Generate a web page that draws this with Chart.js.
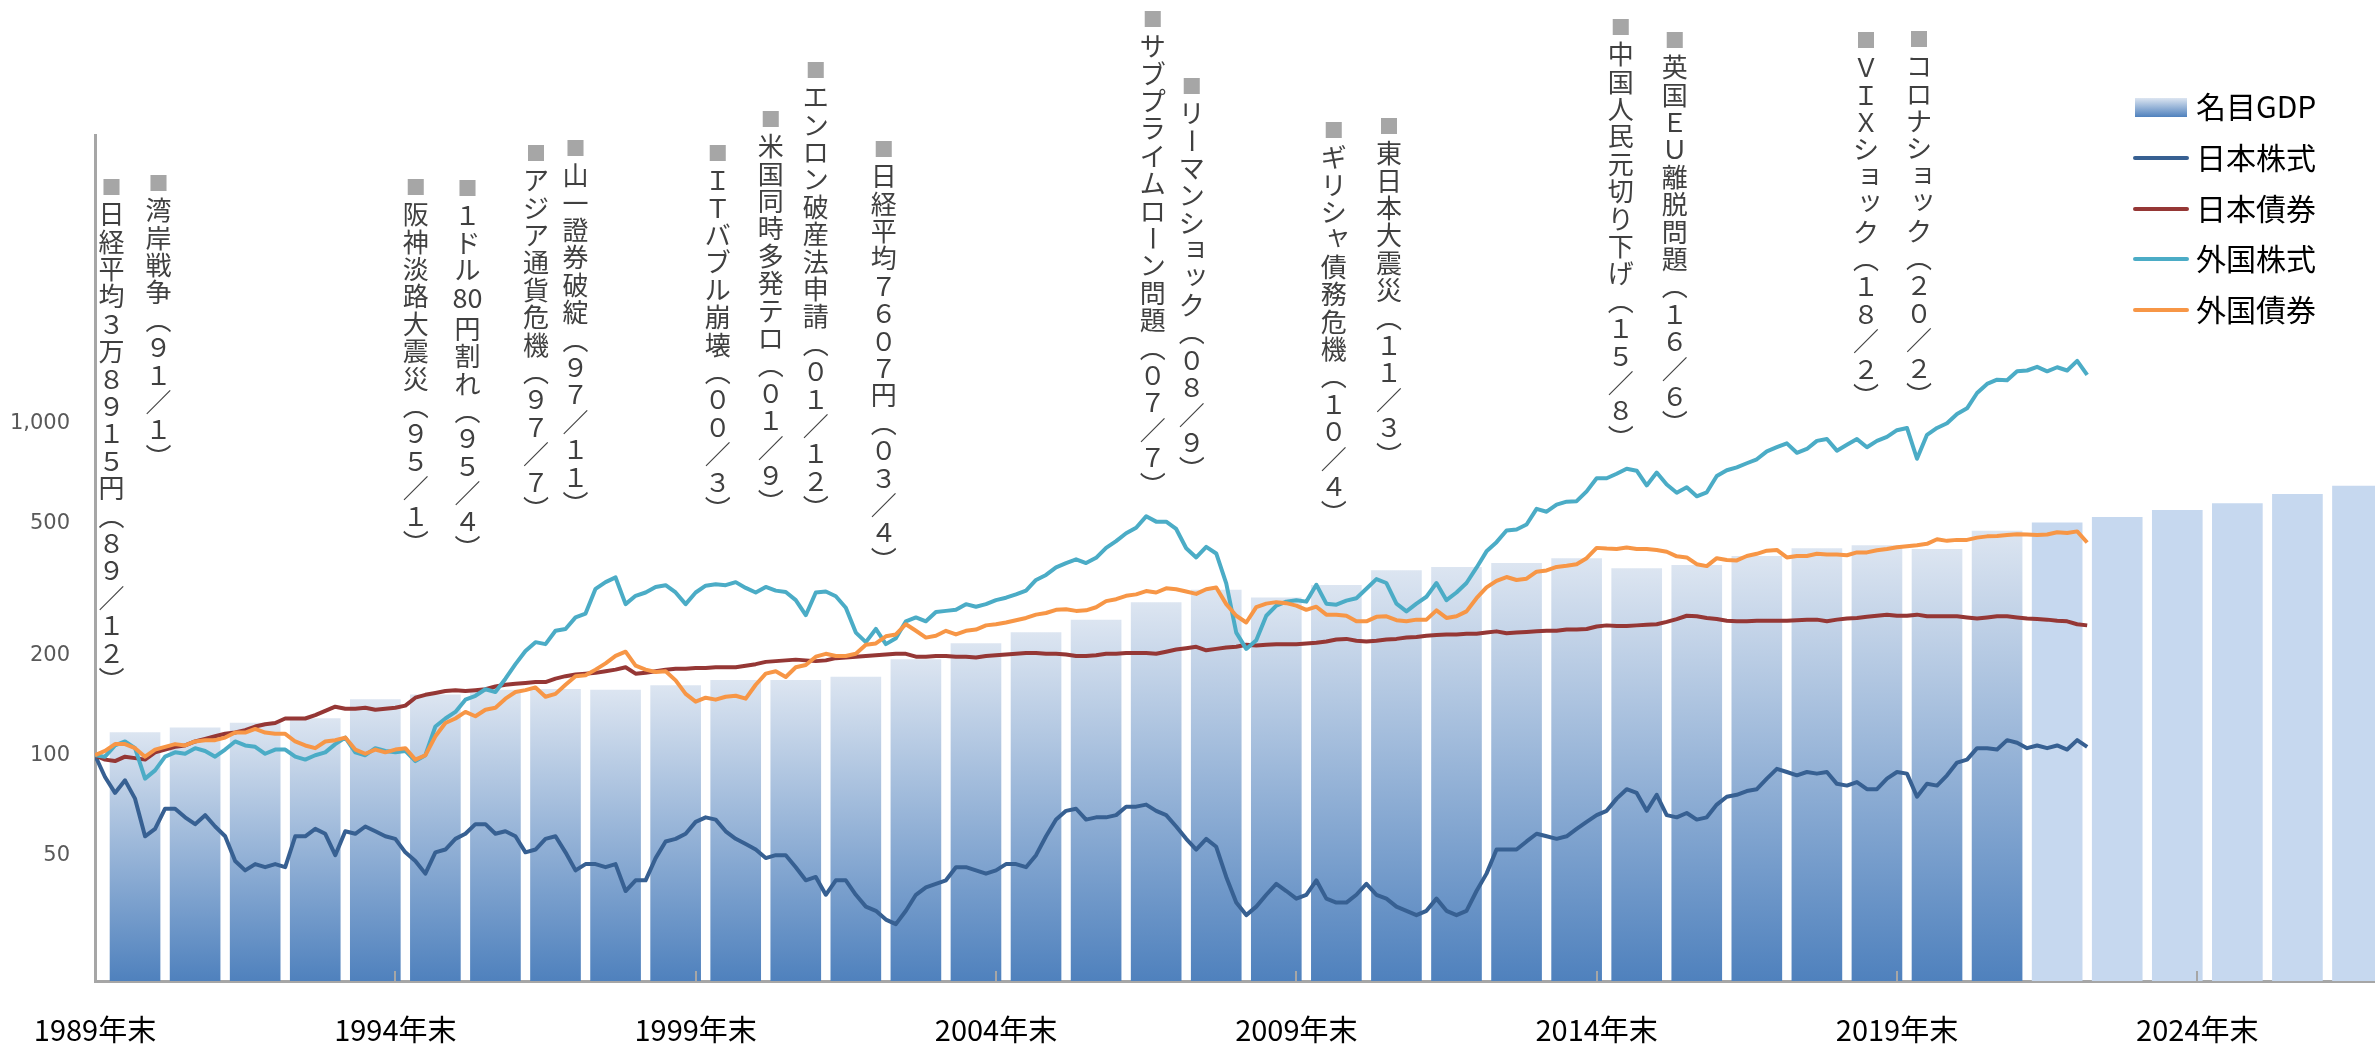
<!DOCTYPE html>
<html>
<head>
<meta charset="utf-8">
<script src="https://cdn.jsdelivr.net/npm/chart.js@4.4.1/dist/chart.umd.min.js"></script>
<style>
  html, body { margin: 0; padding: 0; background: #fff; }
  #wrap { width: 2375px; height: 1047px; }
</style>
</head>
<body>
<div id="wrap"><canvas id="chart" width="2375" height="1047"></canvas></div>
<script>
// 指数（1989年末=100）、2か月ごとの値（0 = 1989年12月）
const japanStock = [
  100, 86, 77, 84, 74, 57, 60, 69, 69, 65, 62, 66, 61, 57, 48, 45, 47, 46, 47, 46, 57, 57, 60, 58, 50, 59, 58, 61, 59, 57, 56, 51, 48,
  44, 51, 52, 56, 58, 62, 62, 58, 59, 57, 51, 52, 56, 57, 51, 45, 47, 47, 46, 47, 39, 42, 42, 49, 55, 56, 58, 63, 65, 64, 59, 56, 54, 52, 49, 50, 50, 46, 42, 43, 38, 42,
  42, 38, 35, 34, 32, 31, 34, 38, 40, 41, 42, 46, 46, 45, 44, 45, 47, 47, 46, 50, 57, 64, 68, 69, 64, 65, 65, 66, 70, 70, 71, 68, 66, 61, 56, 52, 56, 53, 43, 36, 33, 35,
  38, 41, 39, 37, 38, 42, 37, 36, 36, 38, 41, 38, 37, 35, 34, 33, 34, 37, 34, 33, 34, 39, 44, 52, 52, 52, 55, 58, 57, 56, 57, 60, 63, 66, 68, 74, 79, 77, 68, 76, 66, 65,
  67, 64, 65, 71, 75, 76, 78, 79, 85, 91, 89, 87, 89, 88, 89, 82, 81, 83, 79, 79, 85, 89, 88, 75, 82, 81, 87, 95, 97, 105, 105, 104, 111, 109, 105, 107, 105, 107, 104, 111, 106
];
const japanBond = [
  100, 97, 96, 99, 98, 97, 102, 104, 106, 107, 110, 112, 114, 116, 117, 119, 122, 124, 125, 129, 129, 129, 132, 136, 140, 138, 138, 139, 137, 138, 139, 141, 149,
  152, 154, 156, 157, 156, 157, 158, 161, 163, 164, 165, 166, 166, 170, 173, 175, 176, 177, 179, 181, 184, 176, 177, 179, 181, 182, 182, 183, 183, 184, 184, 184, 186, 188, 191, 192, 193, 194, 193, 192, 193, 196,
  197, 198, 199, 200, 201, 202, 202, 198, 198, 199, 199, 198, 198, 197, 199, 200, 201, 202, 203, 203, 202, 202, 201, 199, 199, 200, 202, 202, 203, 203, 203, 202, 205, 208, 210, 212, 207, 209, 211, 212, 215, 214,
  215, 216, 216, 216, 217, 218, 220, 223, 224, 221, 220, 221, 223, 224, 226, 227, 229, 230, 231, 231, 232, 232, 234, 236, 233, 234, 235, 236, 237, 237, 239, 239, 240, 244, 246, 245, 245, 246, 247, 248, 252, 257,
  263, 262, 259, 257, 254, 253, 253, 254, 254, 254, 254, 255, 256, 256, 253, 256, 258, 259, 261, 263, 265, 263, 263, 265, 262, 262, 262, 262, 260, 258, 260, 262, 262, 260, 258, 257, 256, 254, 253, 248, 246
];
const foreignStock = [
  100, 99, 107, 110, 105, 85, 90, 99, 102, 101, 105, 103, 99, 104, 110, 107, 106, 101, 104, 104, 99, 97, 100, 102, 108, 113, 102, 100, 105, 103, 102, 103, 96,
  100, 122, 129, 135, 147, 151, 158, 155, 170, 188, 206, 219, 216, 237, 240, 260, 267, 317, 332, 343, 285, 302, 309, 321, 325, 309, 285, 309, 324, 327, 325, 332, 319, 309, 321, 313, 310, 293, 264, 309, 311, 301,
  278, 234, 219, 240, 216, 225, 253, 260, 253, 270, 272, 274, 285, 280, 285, 293, 298, 305, 313, 337, 349, 368, 379, 389, 379, 393, 421, 441, 466, 484, 524, 505, 505, 480, 420, 394, 424, 405, 329, 234, 209, 222,
  263, 282, 290, 293, 290, 326, 286, 284, 292, 297, 317, 339, 330, 286, 271, 286, 300, 330, 293, 309, 330, 367, 411, 438, 475, 478, 495, 552, 541, 568, 580, 582, 623, 682, 682, 704, 729, 719, 649, 710, 653, 617,
  641, 602, 619, 693, 721, 736, 757, 778, 822, 846, 869, 814, 836, 884, 896, 826, 860, 895, 846, 884, 909, 952, 967, 781, 922, 967, 999, 1065, 1108, 1232, 1312, 1351, 1345, 1432, 1440, 1477, 1432, 1473, 1440, 1539, 1397
];
const foreignBond = [
  100, 103, 108, 108, 105, 99, 104, 106, 108, 107, 110, 111, 111, 113, 117, 117, 120, 117, 116, 116, 110, 107, 105, 110, 111, 113, 104, 101, 104, 102, 104, 105, 97,
  100, 114, 125, 129, 135, 131, 137, 139, 148, 155, 157, 160, 150, 153, 163, 173, 174, 181, 189, 199, 205, 186, 181, 178, 179, 168, 153, 145, 149, 147, 150, 151, 148, 163, 176, 179, 172, 184, 187, 198, 202, 199,
  199, 202, 215, 217, 228, 231, 248, 237, 226, 229, 237, 231, 237, 239, 246, 248, 251, 255, 259, 265, 268, 274, 275, 272, 273, 279, 291, 295, 302, 305, 312, 309, 318, 316, 311, 306, 316, 320, 285, 263, 251, 279,
  286, 289, 287, 282, 274, 280, 265, 265, 263, 253, 253, 261, 262, 255, 253, 256, 256, 273, 259, 262, 271, 297, 320, 335, 344, 337, 340, 357, 360, 369, 372, 376, 392, 421, 419, 418, 422, 418, 418, 415, 410, 397,
  394, 376, 371, 392, 387, 386, 398, 404, 413, 415, 394, 398, 398, 404, 402, 402, 400, 408, 408, 414, 418, 423, 426, 429, 433, 447, 442, 445, 445, 452, 456, 457, 460, 463, 462, 460, 462, 469, 467, 472, 437
];

// 名目GDP（年次、2022年以降は見通し）
const gdpYears = [
  1990, 1991, 1992, 1993, 1994, 1995, 1996, 1997, 1998, 1999, 2000, 2001, 2002, 2003, 2004, 2005, 2006, 2007, 2008,
  2009, 2010, 2011, 2012, 2013, 2014, 2015, 2016, 2017, 2018, 2019, 2020, 2021, 2022, 2023, 2024, 2025, 2026, 2027
];
const gdpIndex = [
  117, 121, 125, 129, 147, 152, 157, 158, 157, 162, 168, 168, 172, 194, 217, 234, 255, 288, 314,
  298, 325, 360, 368, 378, 391, 365, 373, 397, 419, 428, 417, 473, 501, 520, 546, 572, 610, 646
];
const forecastFrom = 2022;

const yTicks = [50, 100, 200, 500, 1000];
const xTickYears = [1989, 1994, 1999, 2004, 2009, 2014, 2019, 2024];

const seriesNames = ["名目GDP", "日本株式", "日本債券", "外国株式", "外国債券"];
const seriesColors = ["#4f81bd", "#376092", "#953735", "#4bacc6", "#f79646"];

// 出来事の注記（m = 1989年末からの月数、top = ■の位置）
const events = [
  { m: 3.3, top: 187, text: "日経平均３万８９１５円（８９／１２）" },
  { m: 12.7, top: 183, text: "湾岸戦争（９１／１）" },
  { m: 64.1, top: 187, text: "阪神淡路大震災（９５／１）" },
  { m: 74.4, top: 188, text: "１ドル80円割れ（９５／４）" },
  { m: 88.1, top: 153, text: "アジア通貨危機（９７／７）" },
  { m: 96.0, top: 148, text: "山一證券破綻（９７／１１）" },
  { m: 124.4, top: 153, text: "ＩＴバブル崩壊（００／３）" },
  { m: 135.0, top: 119, text: "米国同時多発テロ（０１／９）" },
  { m: 144.0, top: 70, text: "エンロン破産法申請（０１／１２）" },
  { m: 157.6, top: 149, text: "日経平均７６０７円（０３／４）" },
  { m: 211.3, top: 19, text: "サブプライムローン問題（０７／７）" },
  { m: 219.1, top: 86, text: "リーマンショック（０８／９）" },
  { m: 247.5, top: 130, text: "ギリシャ債務危機（１０／４）" },
  { m: 258.5, top: 126, text: "東日本大震災（１１／３）" },
  { m: 304.8, top: 27, text: "中国人民元切り下げ（１５／８）" },
  { m: 315.6, top: 40, text: "英国ＥＵ離脱問題（１６／６）" },
  { m: 353.8, top: 40, text: "ＶＩＸショック（１８／２）" },
  { m: 364.4, top: 39, text: "コロナショック（２０／２）" }
];

const STEP = 2;
const toPoints = arr => arr.map((v, i) => ({ x: i * STEP, y: v }));
const gdpPoints = gdpYears.map((yr, i) => ({ x: (yr - 1990) * 12 + 8, y: gdpIndex[i], year: yr }));

const JP = '"Noto Sans CJK JP", "Noto Sans", sans-serif';

function barFill(ctx) {
  if (ctx.type !== "data") return seriesColors[0];
  const chart = ctx.chart;
  const area = chart.chartArea;
  const p = ctx.raw;
  if (p.year >= forecastFrom) return "#c6d8ef";
  if (!area) return seriesColors[0];
  const top = chart.scales.y.getPixelForValue(p.y);
  const g = chart.ctx.createLinearGradient(0, top, 0, area.bottom);
  g.addColorStop(0, "#dce5f1");
  g.addColorStop(1, "#4f81bd");
  return g;
}

function lineSet(label, data, color, order) {
  return {
    type: "line", label, data: toPoints(data), borderColor: color, backgroundColor: color,
    borderWidth: 4, pointRadius: 0, tension: 0, borderJoinStyle: "round", order
  };
}

// 縦書きの注記
const smallKana = "ッョャュァィゥェォ";
function tokens(str) {
  const out = [];
  for (const ch of Array.from(str)) {
    const last = out[out.length - 1];
    if (/[0-9]/.test(ch) && last && /^[0-9]+$/.test(last)) out[out.length - 1] = last + ch;
    else out.push(ch);
  }
  return out;
}

const eventPlugin = {
  id: "events",
  afterDraw(chart) {
    const ctx = chart.ctx;
    const xs = chart.scales.x;
    const pitch = 27.4;
    ctx.save();
    ctx.textAlign = "center";
    ctx.textBaseline = "middle";
    events.forEach(ev => {
      const x = xs.getPixelForValue(ev.m);
      ctx.fillStyle = "#a6a6a6";
      ctx.font = "20px " + JP;
      ctx.fillText("■", x, ev.top);
      ctx.fillStyle = "#404040";
      let y = ev.top + pitch;
      tokens(ev.text).forEach(tok => {
        ctx.save();
        ctx.translate(x, y);
        ctx.font = "26px " + JP;
        let ch = tok;
        if (tok === "（") ch = "︵";
        else if (tok === "）") ch = "︶";
        if (tok === "ー") ctx.rotate(Math.PI / 2);
        if (smallKana.includes(tok)) ctx.translate(4, -4);
        if (/^[0-9]+$/.test(tok)) ctx.font = "27px " + JP;
        ctx.fillText(ch, 0, 0);
        ctx.restore();
        y += /^[0-9]+$/.test(tok) ? pitch + 4 : pitch;
      });
    });
    ctx.restore();
  }
};

// 凡例
const legendPlugin = {
  id: "sideLegend",
  afterDraw(chart) {
    const ctx = chart.ctx;
    const x0 = 2135, x1 = 2187, rows = [107, 158, 209, 259, 310];
    ctx.save();
    ctx.font = "30px " + JP;
    ctx.textBaseline = "middle";
    ctx.textAlign = "left";
    seriesNames.forEach((name, i) => {
      const y = rows[i];
      if (i === 0) {
        const g = ctx.createLinearGradient(0, y - 9, 0, y + 10);
        g.addColorStop(0, "#dce5f1");
        g.addColorStop(1, "#4f81bd");
        ctx.fillStyle = g;
        ctx.fillRect(x0, y - 9, x1 - x0, 19);
      } else {
        ctx.strokeStyle = seriesColors[i];
        ctx.lineWidth = 4;
        ctx.lineCap = "round";
        ctx.beginPath();
        ctx.moveTo(x0, y);
        ctx.lineTo(x1, y);
        ctx.stroke();
      }
      ctx.fillStyle = "#000";
      ctx.fillText(name, x1 + 9, y);
    });
    ctx.restore();
  }
};

// x軸の内向き目盛り
const tickPlugin = {
  id: "innerTicks",
  afterDatasetsDraw(chart) {
    const ctx = chart.ctx;
    const xs = chart.scales.x;
    const bottom = chart.chartArea.bottom;
    ctx.save();
    ctx.strokeStyle = "#a6a6a6";
    ctx.lineWidth = 2;
    xTickYears.slice(1).forEach(yr => {
      const x = Math.round(xs.getPixelForValue((yr - 1989) * 12));
      ctx.beginPath();
      ctx.moveTo(x, bottom);
      ctx.lineTo(x, bottom - 10);
      ctx.stroke();
    });
    ctx.restore();
  }
};

new Chart(document.getElementById("chart"), {
  type: "line",
  data: {
    datasets: [
      {
        type: "bar", label: seriesNames[0], data: gdpPoints, backgroundColor: barFill,
        barThickness: 50, order: 5
      },
      lineSet(seriesNames[1], japanStock, seriesColors[1], 4),
      lineSet(seriesNames[2], japanBond, seriesColors[2], 3),
      lineSet(seriesNames[3], foreignStock, seriesColors[3], 2),
      lineSet(seriesNames[4], foreignBond, seriesColors[4], 1)
    ]
  },
  options: {
    responsive: false,
    animation: false,
    devicePixelRatio: 1,
    layout: { padding: { top: 135, right: 0, left: 0, bottom: 0 } },
    plugins: { legend: { display: false }, tooltip: { enabled: false } },
    scales: {
      x: {
        type: "linear",
        min: 0,
        max: 455.5,
        offset: false,
        grid: { display: false, drawTicks: false },
        border: { display: true, color: "#a6a6a6", width: 3 },
        afterBuildTicks: s => { s.ticks = xTickYears.map(yr => ({ value: (yr - 1989) * 12 })); },
        afterFit: s => { s.height = 66; },
        ticks: {
          autoSkip: false,
          maxRotation: 0,
          padding: 32,
          color: "#000",
          font: { family: JP, size: 29 },
          callback: v => (1989 + v / 12) + "年末"
        }
      },
      y: {
        type: "logarithmic",
        min: 20.9,
        max: 7370,
        grid: { display: false, drawTicks: false },
        border: { display: true, color: "#a6a6a6", width: 3 },
        afterBuildTicks: s => { s.ticks = yTicks.map(v => ({ value: v })); },
        afterFit: s => { s.width = 95; },
        ticks: {
          autoSkip: false,
          padding: 25,
          color: "#595959",
          font: { family: '"DejaVu Sans", sans-serif', size: 21 },
          callback: v => Number(v).toLocaleString("en-US")
        }
      }
    }
  },
  plugins: [tickPlugin, eventPlugin, legendPlugin]
});
</script>
</body>
</html>
